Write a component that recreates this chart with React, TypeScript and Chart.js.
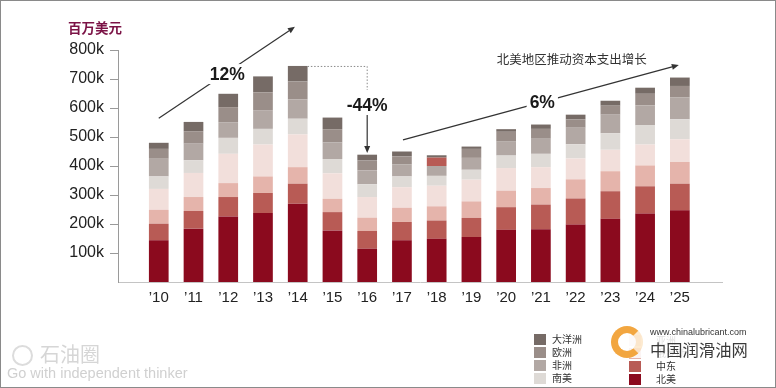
import React, { useEffect, useRef } from 'react';
import { Chart, registerables } from 'chart.js';

Chart.register(...registerables);

// ---------- data ----------
const years = ['’10', '’11', '’12', '’13', '’14', '’15', '’16', '’17', '’18', '’19', '’20', '’21', '’22', '’23', '’24', '’25'];

// 百万美元 (stack order bottom → top)
const northAmerica = [144000, 184000, 226000, 238000, 270000, 178000, 115000, 144000, 149000, 155000, 180000, 182000, 198000, 218000, 236000, 247000];
const middleEast = [57000, 61000, 67000, 69000, 69000, 63000, 61000, 63000, 63000, 66000, 78000, 85000, 90000, 95000, 94000, 92000];
const russia = [48000, 48000, 48000, 57000, 57000, 46000, 46000, 49000, 49000, 57000, 57000, 57000, 66000, 69000, 72000, 75000];
const asia = [72000, 83000, 101000, 110000, 113000, 88000, 71000, 71000, 71000, 75000, 78000, 72000, 72000, 74000, 72000, 78000];
const southAmerica = [43000, 44000, 55000, 54000, 54000, 49000, 44000, 37000, 34000, 34000, 43000, 46000, 49000, 57000, 66000, 69000];
const africa = [61000, 57000, 54000, 63000, 67000, 57000, 48000, 41000, 34000, 41000, 48000, 52000, 57000, 64000, 69000, 75000];
const europe = [34000, 43000, 52000, 63000, 62000, 46000, 34000, 28000, 29000, 31000, 34000, 34000, 29000, 31000, 40000, 40000];
const oceania = [21000, 32000, 46000, 55000, 53000, 40000, 20000, 17000, 8000, 8000, 9000, 15000, 16000, 17000, 21000, 29000];

const seriesNames = ['北美', '中东', '俄罗斯', '亚洲', '南美', '非洲', '欧洲', '大洋洲'];
const seriesColors = ['#8B0A1E', '#B85B55', '#E5B4AB', '#F2DFDB', '#DEDAD6', '#B2A8A4', '#9A8E89', '#766B66'];

const yTickValues = [100000, 200000, 300000, 400000, 500000, 600000, 700000, 800000];

const FONT = "'Liberation Sans', Arial, Helvetica, sans-serif";
const CJK = "'Noto Sans CJK SC', sans-serif";

function drawArrow(ctx: CanvasRenderingContext2D, a: number[], b: number[]) {
  ctx.save();
  ctx.strokeStyle = '#333';
  ctx.fillStyle = '#333';
  ctx.lineWidth = 1.2;
  ctx.setLineDash([]);
  const ang = Math.atan2(b[1] - a[1], b[0] - a[0]);
  const hl = 7, hw = 3;
  const bx = b[0] - Math.cos(ang) * hl;
  const by = b[1] - Math.sin(ang) * hl;
  ctx.beginPath();
  ctx.moveTo(a[0], a[1]);
  ctx.lineTo(bx, by);
  ctx.stroke();
  ctx.beginPath();
  ctx.moveTo(b[0], b[1]);
  ctx.lineTo(bx + Math.sin(ang) * hw, by - Math.cos(ang) * hw);
  ctx.lineTo(bx - Math.sin(ang) * hw, by + Math.cos(ang) * hw);
  ctx.closePath();
  ctx.fill();
  ctx.restore();
}

function drawBoxedLabel(ctx: CanvasRenderingContext2D, text: string, p: number[]) {
  ctx.save();
  ctx.font = `bold 17.5px ${FONT}`;
  const w = ctx.measureText(text).width;
  ctx.fillStyle = '#fff';
  ctx.fillRect(p[0] - w / 2 - 3, p[1] - 10, w + 6, 20);
  ctx.fillStyle = '#1a1a1a';
  ctx.textAlign = 'center';
  ctx.textBaseline = 'middle';
  ctx.fillText(text, p[0], p[1] + 1);
  ctx.restore();
}

const annotationPlugin = {
  id: 'annotations',
  afterDraw(chart: any) {
    const { ctx } = chart;
    const xs = chart.scales.x;
    const ys = chart.scales.y;
    const P = (xv: number, yv: number) => [xs.getPixelForValue(xv), ys.getPixelForValue(yv)];

    ctx.save();
    // unit label
    ctx.font = `bold 13.5px ${CJK}`;
    ctx.fillStyle = '#7B1346';
    ctx.textAlign = 'center';
    ctx.textBaseline = 'middle';
    ctx.fillText('百万美元', 95, 28);

    // 12% growth arrow
    drawArrow(ctx, P(0, 565000), P(3.92, 880000));
    drawBoxedLabel(ctx, '12%', P(1.974, 717000));

    // -44% drop
    const topMeta = chart.getDatasetMeta(seriesNames.length - 1);
    const peak = topMeta.data[4];
    const peakY = peak.y;
    const x16 = xs.getPixelForValue(6);
    ctx.save();
    ctx.strokeStyle = '#8a8a8a';
    ctx.lineWidth = 1;
    ctx.setLineDash([1.5, 1.8]);
    ctx.beginPath();
    ctx.moveTo(peak.x + peak.width / 2, peakY + 0.5);
    ctx.lineTo(x16, peakY + 0.5);
    ctx.lineTo(x16, ys.getPixelForValue(662000));
    ctx.stroke();
    ctx.restore();
    ctx.font = `bold 17.5px ${FONT}`;
    ctx.fillStyle = '#1a1a1a';
    ctx.textAlign = 'center';
    ctx.textBaseline = 'middle';
    ctx.fillText('-44%', x16, ys.getPixelForValue(608000));
    drawArrow(ctx, P(6, 576000), P(6, 445000));

    // 6% growth arrow
    drawArrow(ctx, P(7.03, 490000), P(14.97, 748000));
    drawBoxedLabel(ctx, '6%', P(11.04, 619000));
    ctx.font = `12.5px ${CJK}`;
    ctx.fillStyle = '#333';
    ctx.textAlign = 'center';
    ctx.textBaseline = 'middle';
    const tp = P(11.89, 769000);
    ctx.fillText('北美地区推动资本支出增长', tp[0], tp[1]);
    ctx.restore();
  },
};

export default function App() {
  const ref = useRef<HTMLCanvasElement>(null);

  useEffect(() => {
    if (!ref.current) return;
    const series = [northAmerica, middleEast, russia, asia, southAmerica, africa, europe, oceania];
    const datasets = series.map((vals, si) => ({
      label: seriesNames[si],
      data: vals.map((v, i) => ({ x: i, y: v })),
      backgroundColor:
        si === 6 ? vals.map((_, i) => (years[i] === '’18' ? seriesColors[1] : seriesColors[6])) : seriesColors[si],
      borderWidth: 0,
      barPercentage: 0.567,
      categoryPercentage: 1,
    }));

    const chart = new Chart(ref.current, {
      type: 'bar',
      data: { datasets },
      options: {
        animation: false,
        responsive: true,
        maintainAspectRatio: false,
        events: [],
        layout: { padding: { top: 50, right: 54, left: 0, bottom: 0 } },
        plugins: { legend: { display: false }, tooltip: { enabled: false } },
        scales: {
          x: {
            type: 'linear',
            stacked: true,
            min: -0.63,
            max: 15.67,
            afterBuildTicks: (scale: any) => {
              scale.ticks = years.map((_, i) => ({ value: i }));
            },
            afterFit: (scale: any) => {
              scale.height = 106;
            },
            grid: { drawOnChartArea: false, drawTicks: false },
            border: { color: '#c4c4c4', width: 1 },
            ticks: {
              autoSkip: false,
              maxRotation: 0,
              padding: 7,
              color: '#222',
              font: { family: FONT, size: 15 },
              callback: (v: any) => years[v] ?? '',
            },
          },
          y: {
            stacked: true,
            min: 0,
            max: 800000,
            afterBuildTicks: (scale: any) => {
              scale.ticks = yTickValues.map((v) => ({ value: v }));
            },
            afterFit: (scale: any) => {
              scale.width = 118;
            },
            grid: { drawOnChartArea: false, drawTicks: true, tickLength: 8, color: '#9a9a9a' },
            border: { color: '#9a9a9a', width: 1 },
            ticks: {
              padding: 6,
              color: '#222',
              font: { family: FONT, size: 16 },
              callback: (v: any) => `${Math.round(v / 1000)}k`,
            },
          },
        },
      },
      plugins: [annotationPlugin],
    } as any);
    return () => chart.destroy();
  }, []);

  const leftLegend = [7, 6, 5, 4];
  const rightLegend = [3, 2, 1, 0];
  const rowY = [334, 347, 360, 373];

  return (
    <div style={{ position: 'fixed', left: 0, top: 0, width: 776, height: 388, background: '#fff', overflow: 'hidden' }}>
      <canvas ref={ref} style={{ position: 'absolute', left: 0, top: 0 }} />
      {/* legend */}
      {leftLegend.map((si, r) => (
        <React.Fragment key={'l' + si}>
          <div style={{ position: 'absolute', left: 534, top: rowY[r], width: 12, height: 11, background: seriesColors[si] }} />
          <div style={{ position: 'absolute', left: 552, top: rowY[r] - 2, fontFamily: CJK, fontSize: 10, lineHeight: '14px', color: '#333' }}>
            {seriesNames[si]}
          </div>
        </React.Fragment>
      ))}
      {rightLegend.map((si, r) => (
        <React.Fragment key={'r' + si}>
          <div style={{ position: 'absolute', left: 629, top: rowY[r] + 1, width: 12, height: 11, background: seriesColors[si] }} />
          <div style={{ position: 'absolute', left: 656, top: rowY[r] - 1, fontFamily: CJK, fontSize: 10, lineHeight: '14px', color: '#333' }}>
            {seriesNames[si]}
          </div>
        </React.Fragment>
      ))}
      {/* watermark bottom right */}
      <div style={{ position: 'absolute', left: 608, top: 326, width: 145, height: 32, background: 'rgba(255,255,255,0.85)' }} />
      <div
        style={{
          position: 'absolute', left: 611, top: 326, width: 18, height: 18, borderRadius: '50%',
          border: '7px solid #F2A236', borderRightColor: 'rgba(242,162,54,0.25)', opacity: 0.95,
        }}
      />
      <div style={{ position: 'absolute', left: 650, top: 327, fontFamily: FONT, fontSize: 9, color: '#333', lineHeight: '11px' }}>
        www.chinalubricant.com
      </div>
      <div style={{ position: 'absolute', left: 650, top: 339, fontFamily: CJK, fontSize: 16.3, color: '#3a3a3a', lineHeight: '20px' }}>
        中国润滑油网
      </div>
      {/* watermark bottom left */}
      <div style={{ position: 'absolute', left: 12, top: 345, width: 17, height: 17, borderRadius: '50%', border: '2px solid #dcdcdc' }} />
      <div style={{ position: 'absolute', left: 40, top: 341, fontFamily: CJK, fontSize: 20, color: '#d6d6d6', lineHeight: '26px' }}>
        石油圈
      </div>
      <div style={{ position: 'absolute', left: 7, top: 365, fontFamily: FONT, fontSize: 14.5, color: '#d0d0d0', lineHeight: '17px' }}>
        Go with independent thinker
      </div>
      {/* frame */}
      <div style={{ position: 'absolute', left: 0, top: 0, width: 776, height: 388, boxSizing: 'border-box', border: '1px solid #8a8a8a', pointerEvents: 'none' }} />
    </div>
  );
}
